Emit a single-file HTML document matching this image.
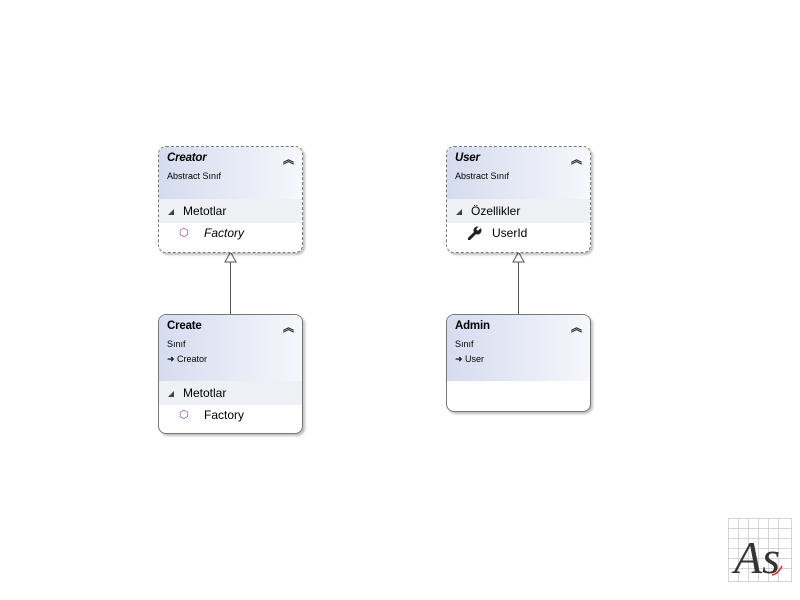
<!DOCTYPE html>
<html><head><meta charset="utf-8"><style>
body{margin:0;width:800px;height:600px;background:#fff;position:relative;overflow:hidden;font-family:"Segoe UI","Liberation Sans","DejaVu Sans",sans-serif;color:#000}
.box{position:absolute;width:143px;border-radius:8px;background:#fff;box-shadow:2px 2px 2px rgba(0,0,0,.25);overflow:hidden}
.dash{border:1px dashed #777}.solid{border:1px solid #777}
.hd{background:linear-gradient(to right,#d5dcef,#f6f7fb);position:relative}
.t{position:absolute;left:8px;top:5px;font-size:11.5px;font-weight:bold;letter-spacing:-0.2px}
.s{position:absolute;left:8px;font-size:9px}
.chev{position:absolute;right:8px;top:4px;font-size:11px;color:#222;font-weight:bold}
.sec{height:24px;background:#eef0f6;font-size:12px;line-height:24px;position:relative}
.sec span{position:absolute;left:24px}
.sec i{position:absolute;left:9px;top:10px;width:0;height:0;border-left:6px solid transparent;border-bottom:6px solid #444}
.mem{height:22px;font-size:12px;line-height:20px;position:relative}
</style></head><body>
<svg width="800" height="600" style="position:absolute;left:0;top:0">
<line x1="230.5" y1="262" x2="230.5" y2="315" stroke="#555"/>
<polygon points="230.5,252 225,262 236,262" fill="#fff" stroke="#555"/>
<line x1="518.5" y1="262" x2="518.5" y2="315" stroke="#555"/>
<polygon points="518.5,252 513,262 524,262" fill="#fff" stroke="#555"/>
</svg>

<div class="box dash" style="left:158px;top:146px;height:105px">
 <div class="hd" style="height:52px"><div class="t" style="font-style:italic">Creator</div><div class="s" style="top:24px">Abstract Sınıf</div><div class="chev">︽</div></div>
 <div class="sec"><i></i><span>Metotlar</span></div>
 <div class="mem"><span style="position:absolute;left:20px;color:#7b3fb0;font-size:11px">⬡</span><span style="position:absolute;left:45px;font-style:italic">Factory</span></div>
</div>

<div class="box solid" style="left:158px;top:314px;height:118px">
 <div class="hd" style="height:66px"><div class="t">Create</div><div class="s" style="top:24px">Sınıf</div><div class="s" style="top:39px">➜ Creator</div><div class="chev">︽</div></div>
 <div class="sec"><i></i><span>Metotlar</span></div>
 <div class="mem"><span style="position:absolute;left:20px;color:#7b3fb0;font-size:11px">⬡</span><span style="position:absolute;left:45px">Factory</span></div>
</div>

<div class="box dash" style="left:446px;top:146px;height:105px">
 <div class="hd" style="height:52px"><div class="t" style="font-style:italic">User</div><div class="s" style="top:24px">Abstract Sınıf</div><div class="chev">︽</div></div>
 <div class="sec"><i></i><span>Özellikler</span></div>
 <div class="mem"><svg width="14" height="14" style="position:absolute;left:21px;top:3px"><path d="M1 13 L7 7" stroke="#222" stroke-width="3" stroke-linecap="round"/><circle cx="9.5" cy="4.5" r="4" fill="#222"/><path d="M9 4 L13 0" stroke="#fff" stroke-width="2.5"/></svg><span style="position:absolute;left:45px">UserId</span></div>
</div>

<div class="box solid" style="left:446px;top:314px;height:96px">
 <div class="hd" style="height:66px"><div class="t">Admin</div><div class="s" style="top:24px">Sınıf</div><div class="s" style="top:39px">➜ User</div><div class="chev">︽</div></div>
</div>

<svg width="64" height="64" style="position:absolute;left:728px;top:518px">
<g stroke="#d4d4d4">
<line x1="0" y1="0.5" x2="64" y2="0.5"/><line x1="0" y1="10.5" x2="64" y2="10.5"/><line x1="0" y1="20.5" x2="64" y2="20.5"/><line x1="0" y1="30.5" x2="64" y2="30.5"/><line x1="0" y1="40.5" x2="64" y2="40.5"/><line x1="0" y1="50.5" x2="64" y2="50.5"/><line x1="0" y1="63.5" x2="64" y2="63.5"/>
<line x1="0.5" y1="0" x2="0.5" y2="64"/><line x1="10.5" y1="0" x2="10.5" y2="64"/><line x1="20.5" y1="0" x2="20.5" y2="64"/><line x1="30.5" y1="0" x2="30.5" y2="64"/><line x1="40.5" y1="0" x2="40.5" y2="64"/><line x1="50.5" y1="0" x2="50.5" y2="64"/><line x1="63.5" y1="0" x2="63.5" y2="64"/>
</g>
<text x="6" y="55" font-family="Liberation Serif,serif" font-style="italic" font-size="46" fill="#333">As</text>
<path d="M44 57 Q50 56 54 48" stroke="#d33" fill="none" stroke-width="1.5"/>
</svg>
</body></html>
